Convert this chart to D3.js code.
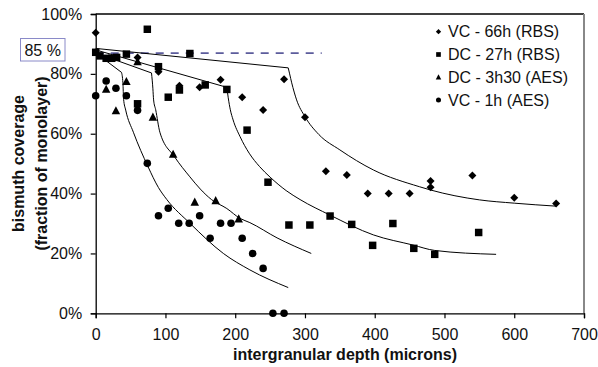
<!DOCTYPE html>
<html><head><meta charset="utf-8">
<script src="https://cdn.jsdelivr.net/npm/d3@7"></script>
<style>body{margin:0;background:#fff}svg{display:block;font-family:"Liberation Sans",Arial,sans-serif}</style>
</head><body><svg id="c" width="598" height="367"></svg>
<script>
// ---- data (depth in microns, coverage in % of monolayer) ----
const seriesNames = ["VC - 66h (RBS)", "DC - 27h (RBS)", "DC - 3h30 (AES)", "VC - 1h (AES)"];
const vc66h = [[0,93.7],[60,85.5],[90,80.7],[120,76],[149,75.5],[179,78],[210,72.2],[240,67.9],[270,78.2],[300,65.5],[330,47.5],[360,46.2],[390,40],[420,40],[450,40],[480,44.2],[480,42.1],[540,46],[600,38.6],[660,36.7]];
const dc27h = [[0,87.2],[6,86],[15,85.2],[23,85.2],[30,85.5],[44,86.6],[60,70],[74,94.9],[90,82.4],[104,72.2],[120,74.6],[135,86.8],[157,76.3],[188,74.8],[217,61.2],[247,43.8],[277,29.5],[307,29.5],[336,32.5],[367,29.7],[397,22.7],[426,30],[456,21.7],[486,19.7],[549,27]];
const dc3h30 = [[15,74.8],[29,67.6],[44,77.4],[60,84],[82,65.5],[111,53.1],[142,37.1],[172,37.6],[205,31.5]];
const vc1h = [[0,72.7],[15,77.6],[29,75.2],[44,72.7],[60,67.8],[74,50.1],[90,32.6],[104,35.1],[119,30.1],[134,30.1],[149,32.6],[164,25.1],[179,30.1],[194,30.1],[210,25.1],[225,20],[240,15],[254,0],[270,0]];
// fitted curves: [start, knee, ...curve]
const fit66h = [[0,88.5],[276,82],[278,80],[281,77],[288,71.3],[300,65.7],[320,59.7],[350,54.6],[398,47.9],[464,42.3],[480,41.2],[550,37.9],[600,36.8],[660,35.8]];
const fit27h = [[0,88],[188,75.5],[190,72],[193,68],[197,64.6],[207,59],[220,53.5],[235,49],[250,45.5],[273,41],[293,38],[336,32.8],[398,26.2],[455,22.8],[486,21],[574,19.7]];
const fit3h30 = [[0,87],[80,80.3],[82,75],[83,71.3],[86,68],[92,60.5],[113,52.3],[135,45.6],[150,41.5],[166,38],[188,35],[207,31.7],[221,30.3],[260,25.2],[309,20]];
const fit1h = [[0,87],[37,80.5],[39,77],[40,71.5],[43,67.9],[54,60.5],[75,49],[90,42],[102,38],[135,30.1],[183,20],[221,14.5],[276,8.6]];
const refLevel = 86.9, refEnd = 324, refLabel = "85 %";
const xTicks = [0,100,200,300,400,500,600,700];
const yTicks = [0,20,40,60,80,100];
const xTitle = "intergranular depth (microns)";
const yTitle = ["bismuth coverage", "(fraction of monolayer)"];

// ---- drawing ----
const svg = d3.select("#c");
const x = d3.scaleLinear().domain([0,700]).range([95.7,584]);
const y = d3.scaleLinear().domain([0,100]).range([313.3,14]);

// frame top/right
svg.append("line").attr("x1",x(0)).attr("x2",x(700)).attr("y1",y(100)).attr("y2",y(100)).attr("stroke","#000").attr("stroke-width",1.3);
svg.append("line").attr("x1",x(700)).attr("x2",x(700)).attr("y1",y(100)).attr("y2",y(0)).attr("stroke","#888").attr("stroke-width",2);

const xAxis = svg.append("g").attr("transform",`translate(0,${y(0)})`)
  .call(d3.axisBottom(x).tickValues(xTicks).tickSize(5).tickPadding(10));
const yAxis = svg.append("g").attr("transform",`translate(${x(0)},0)`)
  .call(d3.axisLeft(y).tickValues(yTicks).tickSize(5).tickPadding(8).tickFormat(d=>d+"%"));
[xAxis,yAxis].forEach(g=>{
  g.select(".domain").attr("stroke","#000").attr("stroke-width",1.3);
  g.selectAll(".tick line").attr("stroke","#000").attr("stroke-width",1.2);
  g.selectAll(".tick text").attr("font-size",16).attr("fill","#111").attr("font-family","Liberation Sans, Arial, sans-serif");
});
yAxis.selectAll(".tick text").attr("x",-13.5);

// reference dashed line + label box
svg.append("line").attr("x1",x(0)).attr("x2",x(refEnd)).attr("y1",y(refLevel)).attr("y2",y(refLevel))
  .attr("stroke","#5c5c9c").attr("stroke-width",1.8).attr("stroke-dasharray","8,7");
svg.append("rect").attr("x",20.5).attr("y",38.5).attr("width",44.5).attr("height",22.5).attr("fill","#fff").attr("stroke","#8a8ac8").attr("stroke-width",1);
svg.append("text").attr("x",42.7).attr("y",50).attr("dy","0.35em").attr("text-anchor","middle").attr("font-size",16).attr("fill","#111").text(refLabel);

// fitted curves
const lin = d3.line().x(d=>x(d[0])).y(d=>y(d[1]));
const mono = d3.line().x(d=>x(d[0])).y(d=>y(d[1])).curve(d3.curveMonotoneX);
[fit66h, fit27h, fit3h30, fit1h].forEach(f=>{
  svg.append("path").attr("d",lin(f.slice(0,2))).attr("fill","none").attr("stroke","#000").attr("stroke-width",1);
  svg.append("path").attr("d",mono(f.slice(1))).attr("fill","none").attr("stroke","#000").attr("stroke-width",1);
});

// markers
const diamond = {draw(ctx,size){const r=Math.sqrt(size/2);ctx.moveTo(0,-r);ctx.lineTo(r,0);ctx.lineTo(0,r);ctx.lineTo(-r,0);ctx.closePath();}};
const tri = {draw(ctx,size){const s=Math.sqrt(size);ctx.moveTo(0,-s*0.55);ctx.lineTo(s*0.5,s*0.4);ctx.lineTo(-s*0.5,s*0.4);ctx.closePath();}};
const shapes = [[diamond,32],[d3.symbolSquare,56],[tri,72],[d3.symbolCircle,45]];
const legendShapes = [[diamond,14],[d3.symbolSquare,22],[tri,30],[d3.symbolCircle,20]];
[vc66h, dc27h, dc3h30, vc1h].forEach((s,i)=>{
  svg.append("g").selectAll("path").data(s).join("path")
    .attr("transform",d=>`translate(${x(d[0])},${y(d[1])})`)
    .attr("d",d3.symbol().type(shapes[i][0]).size(shapes[i][1])).attr("fill","#000");
});

// legend
const lg = svg.append("g");
seriesNames.forEach((n,i)=>{
  const yy = 31.7 + i*22.8;
  lg.append("path").attr("transform",`translate(438.5,${yy})`).attr("d",d3.symbol().type(legendShapes[i][0]).size(legendShapes[i][1])).attr("fill","#000");
  lg.append("text").attr("x",448).attr("y",yy).attr("dy","0.35em").attr("font-size",16).attr("fill","#111").text(n);
});

// titles
svg.append("text").attr("x",345).attr("y",360).attr("text-anchor","middle").attr("font-size",16).attr("font-weight","bold").attr("fill","#111").text(xTitle);
yTitle.forEach((t,i)=>{
  svg.append("text").attr("transform",`translate(${18.5+i*22.5},163.5) rotate(-90)`).attr("dy","0.35em")
    .attr("text-anchor","middle").attr("font-size",16).attr("font-weight","bold").attr("fill","#111").text(t);
});
</script></body></html>
